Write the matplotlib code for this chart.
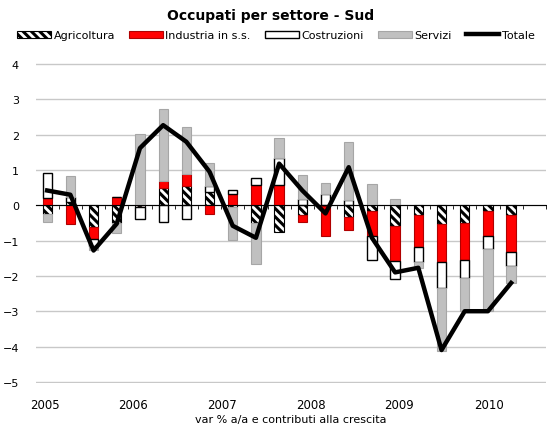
import matplotlib
matplotlib.use("Agg")
import matplotlib.pyplot as plt
import matplotlib.patches as mpatches
import matplotlib.lines as mlines
import numpy as np

# quarterly contributions, 2005Q1 - 2010Q1
agricoltura = [-0.24, 0.10, -0.62, -0.50, -0.05, 0.49, 0.55, 0.38, -0.05, -0.49, -0.75,
               -0.27, -0.02, -0.33, -0.17, -0.60, -0.28, -0.52, -0.49, -0.15, -0.27]
industria = [0.22, -0.52, -0.34, 0.24, 0.02, 0.19, 0.35, -0.24, 0.33, 0.58, 0.58,
             -0.19, -0.84, -0.38, -0.70, -0.99, -0.90, -1.08, -1.05, -0.73, -1.04]
costruzioni = [0.70, 0.13, -0.20, 0.00, -0.33, -0.46, -0.40, 0.17, 0.09, 0.19, 0.76,
               0.19, 0.33, 0.14, -0.69, -0.49, -0.43, -0.74, -0.52, -0.35, -0.42]
servizi = [-0.23, 0.60, -0.10, -0.28, 2.00, 2.06, 1.31, 0.65, -0.93, -1.18, 0.57,
           0.67, 0.31, 1.65, 0.61, 0.17, -0.17, -1.80, -0.92, -1.75, -0.47]
totale = [0.42, 0.30, -1.28, -0.52, 1.62, 2.27, 1.80, 0.95, -0.58, -0.92, 1.18,
          0.42, -0.23, 1.08, -0.92, -1.90, -1.77, -4.10, -3.00, -3.00, -2.20]
anni = ["2005", "2006", "2007", "2008", "2009", "2010"]
n_slots = 22

plt.rcParams["hatch.linewidth"] = 2.2

fig = plt.figure(figsize=(5.47, 4.27), dpi=100)
ax = fig.add_axes([0.065, 0.101, 0.933, 0.749])

x = np.arange(len(totale))
w = 0.4
series = [
    (agricoltura, dict(facecolor="white", edgecolor="black", hatch="\\\\\\\\", linewidth=0.8)),
    (industria, dict(facecolor="#ff0000", edgecolor="#b00000", linewidth=0.8)),
    (costruzioni, dict(facecolor="white", edgecolor="black", linewidth=1.0)),
    (servizi, dict(facecolor="#c0c0c0", edgecolor="#a6a6a6", linewidth=0.8)),
]

pos_base = np.zeros(len(x))
neg_base = np.zeros(len(x))
for vals, style in series:
    v = np.array(vals)
    bottom = np.where(v >= 0, pos_base, neg_base)
    ax.bar(x, v, w, bottom=bottom, zorder=2, **style)
    pos_base += np.where(v >= 0, v, 0)
    neg_base += np.where(v < 0, v, 0)

ax.plot(x, totale, color="black", lw=3.2, zorder=4)

ax.set_xlim(-0.5, n_slots - 0.5)
ax.set_ylim(-5.03, 4.03)
ax.set_yticks(range(-5, 5))
ax.yaxis.grid(True, color="#c8c8c8", lw=1.0, zorder=0)
ax.tick_params(axis="y", length=0, labelsize=8, pad=12)
for s in ["left", "right", "top"]:
    ax.spines[s].set_visible(False)

# zero line with category separators
ax.spines["bottom"].set_position(("data", 0))
ax.spines["bottom"].set_color("black")
ax.spines["bottom"].set_zorder(3)
ax.set_xticks([])
ax.set_xticks(np.arange(n_slots) + 0.5, minor=True)
ax.tick_params(axis="x", which="minor", length=3, direction="out", color="black")

sec = ax.secondary_xaxis(0)
sec.set_xticks([-0.1, 3.7, 7.55, 11.35, 15.15, 19.05], anni)
sec.tick_params(length=0, labelsize=8.5, pad=11)
sec.spines["bottom"].set_visible(False)
sec.set_xlabel("var % a/a e contributi alla crescita", fontsize=8, labelpad=2)

fig.suptitle("Occupati per settore - Sud", fontsize=10, fontweight="bold", y=0.978, x=0.495)

handles = [
    mpatches.Patch(facecolor="white", edgecolor="black", hatch="\\\\\\\\", linewidth=0.8),
    mpatches.Patch(facecolor="#ff0000", edgecolor="#b00000", linewidth=0.8),
    mpatches.Patch(facecolor="white", edgecolor="black", linewidth=1.0),
    mpatches.Patch(facecolor="#c0c0c0", edgecolor="#a6a6a6", linewidth=0.8),
    mlines.Line2D([], [], color="black", lw=3.2),
]
labels = ["Agricoltura", "Industria in s.s.", "Costruzioni", "Servizi", "Totale"]
fig.legend(handles, labels, loc="center", bbox_to_anchor=(0.505, 0.915), ncol=5,
           frameon=False, fontsize=8, handlelength=3.0, handleheight=0.7,
           handletextpad=0.25, columnspacing=1.3, borderaxespad=0)

fig.savefig("out.png", dpi=100)
